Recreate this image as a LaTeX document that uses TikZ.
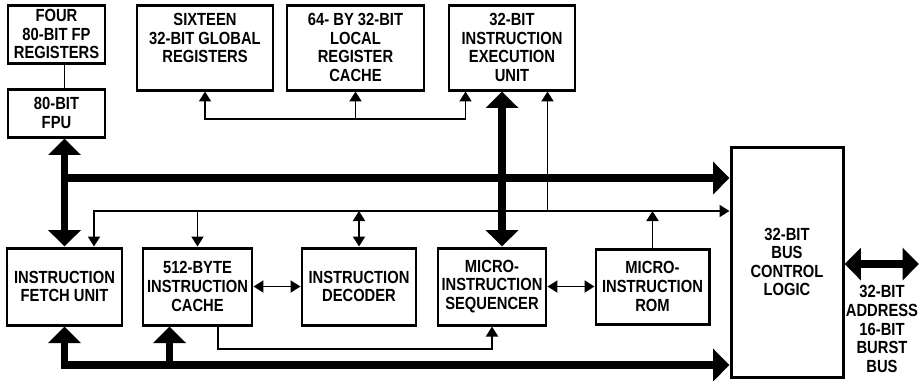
\documentclass[tikz,border=0pt]{standalone}
\usepackage{fontspec}
\setmainfont{Liberation Sans}[FakeStretch=0.84]
\usepackage{tikz}
\usetikzlibrary{arrows.meta,calc}

\begin{document}
\begin{tikzpicture}[
    x=0.02cm,
    y=-0.02cm,
    line cap=butt,
    line join=miter,
    font=\fontsize{10}{10.6}\selectfont\bfseries,
    unit/.style n args={2}{draw=black, line width=1.7pt, fill=white, align=center, inner sep=1pt, minimum width=#1*0.02cm, minimum height=#2*0.02cm},
    wire/.style={draw=black, line width=1.1pt, >={Triangle[length=2mm,width=2.4mm]}},
    bus/.style={draw=black, line width=4.5pt, >={Triangle[length=3.3mm,width=6.4mm]}},
  ]

  \useasboundingbox (0,0) rectangle (920,380);

  % Bus levels
  \coordinate (regbus) at (0,119);
  \coordinate (topbus) at (0,178);
  \coordinate (ctlbus) at (0,211);
  \coordinate (loop) at (0,349);
  \coordinate (lowbus) at (0,365);
  \coordinate (ext) at (919,264);

  % Top row
  \node[unit={97}{58}] (fpregs) at (56.5,34) {FOUR\\80-BIT FP\\REGISTERS};
  \node[unit={97}{48}] (fpu) at (56.5,113) {80-BIT\\FPU};
  \node[unit={136}{85}] (glob) at (205,47.5) {SIXTEEN\\32-BIT GLOBAL\\REGISTERS\\\mbox{}};
  \node[unit={137}{85}] (lrc) at (355.5,47.5) {64- BY 32-BIT\\LOCAL\\REGISTER\\CACHE};
  \node[unit={126}{85}] (ieu) at (512,47.5) {32-BIT\\INSTRUCTION\\EXECUTION\\UNIT};

  % Bottom row
  \node[unit={115}{77}] (fetch) at (64.5,286.5) {INSTRUCTION\\FETCH UNIT};
  \node[unit={109}{77}] (cache) at (197.5,286.5) {512-BYTE\\INSTRUCTION\\CACHE};
  \node[unit={114}{77}] (decoder) at (359,286.5) {INSTRUCTION\\DECODER};
  \node[unit={108}{77}] (seq) at (492,286.5) {MICRO-\\INSTRUCTION\\SEQUENCER};
  \node[unit={113}{75}] (rom) at (652.5,286.5) {MICRO-\\INSTRUCTION\\ROM};
  \node[unit={112}{230}] (bcl) at (787,262) {32-BIT\\BUS\\CONTROL\\LOGIC};

  \coordinate (ieuin) at ($(ieu.south west)+(18,0)$);
  \coordinate (fetchin) at ($(fetch.north)!0.5!(fetch.north east)$);
  \coordinate (cachein) at ($(cache.south west)!0.5!(cache.south)$);
  \coordinate (exec) at ($(ieu.south)!0.5!(seq.north)$);

  % FP register file
  \draw[wire] (fpregs.south -| fetch.north) -- (fpu.north -| fetch.north);

  % Register bus
  \draw[wire,<->] (glob.south) |- (ieuin |- regbus) -- (ieuin);
  \draw[wire,->] (regbus -| lrc.south) -- (lrc.south);

  % Thick data paths
  \draw[bus,<->] (fpu.south -| fetch.north) -- (fetch.north);
  \draw[bus,->] (topbus -| fetch.north) -- (topbus -| bcl.west);
  \draw[bus,<->] (ieu.south -| exec) -- (seq.north -| exec);
  \draw[bus,<->] (fetch.south) |- (lowbus -| bcl.west);
  \draw[bus,->] (lowbus -| cachein) -- (cachein);
  \draw[bus,<->] (bcl.east |- ext) -- (ext);

  % Control bus
  \draw[wire,<->] (fetchin) |- (ctlbus -| bcl.west);
  \draw[wire,->] (ctlbus -| cache.north) -- (cache.north);
  \draw[wire,<->] (ctlbus -| decoder.north) -- (decoder.north);
  \draw[wire,->] (rom.north) -- (rom.north |- ctlbus);
  \draw[wire,->] (ctlbus -| seq.east) -- (ieu.south -| seq.east);

  % Links between units
  \draw[wire,<->] (cache.east) -- (decoder.west);
  \draw[wire,<->] (seq.east) -- (rom.west);
  \draw[wire,->] ($(cache.south)+(20.5,0)$) |- (loop -| seq.south) -- (seq.south);

  % External bus label
  \node[align=center] (extlbl) at (882,329) {32-BIT\\ADDRESS\\16-BIT\\BURST\\BUS};
\end{tikzpicture}
\end{document}
